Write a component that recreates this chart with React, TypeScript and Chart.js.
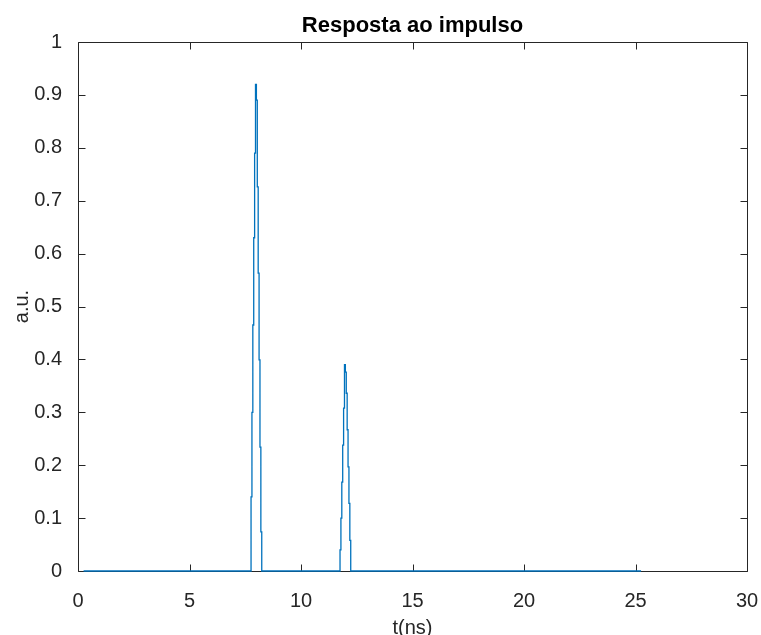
import React, { useEffect, useRef } from "react";
import { Chart, registerables } from "chart.js";

Chart.register(...registerables);

// Baseline (zero) segment limits, ns
const baselineStart = 0.25;
const baselineEnd = 25.25;

// First pulse: sample times (ns) and amplitudes (a.u.)
const pulse1Times = [7.76, 7.8, 7.84, 7.88, 7.92, 7.96, 8.0, 8.04, 8.08, 8.12, 8.16, 8.2, 8.24];
const pulse1Values = [0.14, 0.3, 0.465, 0.63, 0.79, 0.92, 0.89, 0.726, 0.563, 0.399, 0.234, 0.074, 0];

// Second pulse
const pulse2Times = [11.75, 11.79, 11.83, 11.87, 11.91, 11.95, 11.99, 12.03, 12.07, 12.11, 12.15, 12.19, 12.23];
const pulse2Values = [0.04, 0.1, 0.168, 0.238, 0.308, 0.39, 0.376, 0.336, 0.267, 0.197, 0.128, 0.058, 0];

// Tick values
const xTicks = [0, 5, 10, 15, 20, 25, 30];
const yTicks = [0, 0.1, 0.2, 0.3, 0.4, 0.5, 0.6, 0.7, 0.8, 0.9, 1];
const yTickLabels = ["0", "0.1", "0.2", "0.3", "0.4", "0.5", "0.6", "0.7", "0.8", "0.9", "1"];

const titleText = "Resposta ao impulso";
const xLabel = "t(ns)";
const yLabel = "a.u.";

const FONT = "'Liberation Sans', Arial, Helvetica, sans-serif";
const AXIS_COLOR = "#262626";
const LINE_COLOR = "#0072BD";

const boxTicksPlugin = {
  id: "boxTicks",
  beforeDatasetsDraw(chart: any) {
    const { ctx, chartArea } = chart;
    const xs = chart.scales.x;
    const ys = chart.scales.y;
    const l = Math.round(chartArea.left) + 0.5;
    const r = Math.round(chartArea.right) + 0.5;
    const t = Math.round(chartArea.top) + 0.5;
    const b = Math.round(chartArea.bottom) + 0.5;
    const tl = 7;
    ctx.save();
    ctx.strokeStyle = AXIS_COLOR;
    ctx.lineWidth = 1;
    ctx.beginPath();
    ctx.rect(l, t, r - l, b - t);
    xTicks.forEach((v) => {
      const px = Math.round(xs.getPixelForValue(v)) + 0.5;
      ctx.moveTo(px, b);
      ctx.lineTo(px, b - tl);
      ctx.moveTo(px, t);
      ctx.lineTo(px, t + tl);
    });
    yTicks.forEach((v) => {
      const py = Math.round(ys.getPixelForValue(v)) + 0.5;
      ctx.moveTo(l, py);
      ctx.lineTo(l + tl, py);
      ctx.moveTo(r, py);
      ctx.lineTo(r - tl, py);
    });
    ctx.stroke();
    ctx.restore();
  },
};

export default function App() {
  const canvasRef = useRef<HTMLCanvasElement | null>(null);

  useEffect(() => {
    if (!canvasRef.current) return;
    const points: { x: number; y: number }[] = [{ x: baselineStart, y: 0 }];
    pulse1Times.forEach((t, i) => points.push({ x: t, y: pulse1Values[i] }));
    pulse2Times.forEach((t, i) => points.push({ x: t, y: pulse2Values[i] }));
    points.push({ x: baselineEnd, y: 0 });

    const chart = new Chart(canvasRef.current, {
      type: "line",
      data: {
        datasets: [
          {
            data: points,
            borderColor: LINE_COLOR,
            borderWidth: 1.3,
            pointRadius: 0,
            stepped: true,
            tension: 0,
            fill: false,
            clip: false as any,
          },
        ],
      },
      plugins: [boxTicksPlugin],
      options: {
        animation: false,
        responsive: false,
        devicePixelRatio: 1,
        layout: { padding: { left: 0, right: 14, top: 0, bottom: 0 }, autoPadding: false },
        plugins: {
          legend: { display: false },
          tooltip: { enabled: false },
          title: {
            display: true,
            text: titleText,
            fullSize: false,
            color: "#000000",
            font: { family: FONT, size: 22, weight: "bold", lineHeight: 1.2 },
            padding: { top: 12.5, bottom: 3.1 },
          },
        },
        scales: {
          x: {
            type: "linear",
            min: 0,
            max: 30,
            grid: { display: false },
            border: { display: false },
            afterBuildTicks: (scale: any) => {
              scale.ticks = xTicks.map((v) => ({ value: v }));
            },
            afterFit: (scale: any) => {
              scale.height = 64;
              scale.paddingLeft = 0;
              scale.paddingRight = 0;
            },
            ticks: {
              color: AXIS_COLOR,
              padding: 10,
              maxRotation: 0,
              font: { family: FONT, size: 20, lineHeight: 1.2 },
              callback: (v: any) => String(v),
            },
            title: {
              display: true,
              text: xLabel,
              color: AXIS_COLOR,
              font: { family: FONT, size: 20, lineHeight: 0.7 },
              padding: { top: 0, bottom: 0 },
            },
          },
          y: {
            type: "linear",
            min: 0,
            max: 1,
            grid: { display: false },
            border: { display: false },
            afterBuildTicks: (scale: any) => {
              scale.ticks = yTicks.map((v) => ({ value: v }));
            },
            afterFit: (scale: any) => {
              scale.width = 78;
              scale.paddingTop = 0;
              scale.paddingBottom = 0;
            },
            ticks: {
              color: AXIS_COLOR,
              padding: 8,
              font: { family: FONT, size: 20, lineHeight: 1.2 },
              callback: (v: any) => {
                const i = yTicks.findIndex((t) => Math.abs(t - Number(v)) < 1e-9);
                return i >= 0 ? yTickLabels[i] : "";
              },
            },
            title: {
              display: true,
              text: yLabel,
              color: AXIS_COLOR,
              font: { family: FONT, size: 20, lineHeight: 1.2 },
              padding: { top: 10, bottom: 0 },
            },
          },
        },
      },
    });
    return () => chart.destroy();
  }, []);

  return (
    <div style={{ position: "absolute", left: 0, top: 0, width: 761, height: 635, background: "#ffffff" }}>
      <canvas ref={canvasRef} width={761} height={635} style={{ display: "block" }} />
    </div>
  );
}
